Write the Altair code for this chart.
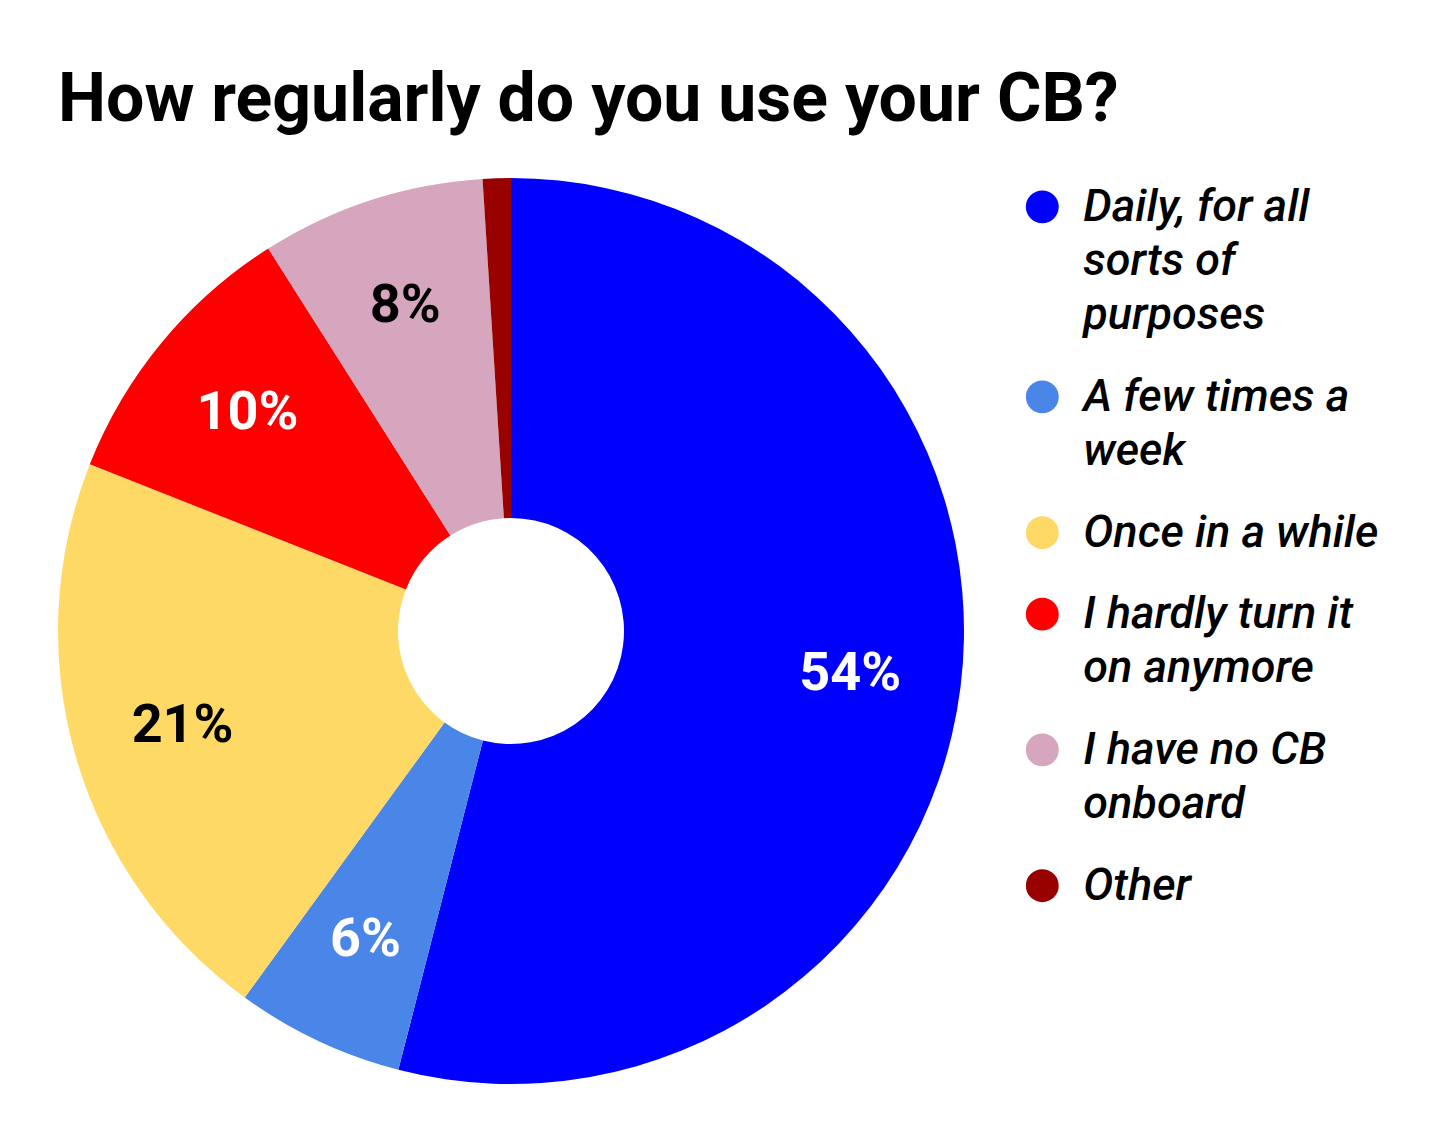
import altair as alt
import pandas as pd

TITLE = "How regularly do you use your CB?"
CATEGORIES = [
    "Daily, for all sorts of purposes",
    "A few times a week",
    "Once in a while",
    "I hardly turn it on anymore",
    "I have no CB onboard",
    "Other",
]
VALUES = [54, 6, 21, 10, 8, 1]
COLORS = ["#0000ff", "#4a86e8", "#ffd966", "#ff0000", "#d5a6bd", "#990000"]
DARK_LABEL_CATEGORIES = ["Once in a while", "I have no CB onboard"]
LEGEND_LINES = [
    ["Daily, for all", "sorts of", "purposes"],
    ["A few times a", "week"],
    ["Once in a while"],
    ["I hardly turn it", "on anymore"],
    ["I have no CB", "onboard"],
    ["Other"],
]

pie_df = pd.DataFrame({
    "category": CATEGORIES,
    "value": VALUES,
    "order": list(range(len(CATEGORIES))),
})

rows = []
slot = 0.0
for cat, lines in zip(CATEGORIES, LEGEND_LINES):
    for j, line in enumerate(lines):
        rows.append({"category": cat, "line": line, "slot": slot + j, "first": j == 0})
    slot += len(lines) + 0.5
leg_df = pd.DataFrame(rows)

color_scale = alt.Scale(domain=CATEGORIES, range=COLORS)

base = alt.Chart(pie_df).encode(
    theta=alt.Theta("value:Q", stack=True),
    order=alt.Order("order:Q", sort="ascending"),
)

arcs = base.mark_arc(outerRadius=453, innerRadius=113, stroke=None).encode(
    color=alt.Color("category:N", scale=color_scale, legend=None)
)

dark_test = " || ".join([f"datum.category == '{c}'" for c in DARK_LABEL_CATEGORIES])
labels = base.transform_calculate(
    label="datum.value + '%'"
).mark_text(
    radius=342, font="Roboto", fontSize=54, fontWeight="bold"
).encode(
    text=alt.condition("datum.value >= 2", alt.Text("label:N"), alt.value("")),
    color=alt.condition(dark_test, alt.value("#000000"), alt.value("#ffffff")),
)

pie = alt.layer(arcs, labels).properties(width=1006, height=920)

xs = alt.Scale(domain=[-0.69, 9.31])
ys = alt.Scale(domain=[-0.66, 16.28], reverse=True)

leg_base = alt.Chart(leg_df)
symbols = leg_base.transform_filter("datum.first").transform_calculate(col="0").mark_circle(
    size=1080, opacity=1
).encode(
    x=alt.X("col:Q", scale=xs, axis=None),
    y=alt.Y("slot:Q", scale=ys, axis=None),
    color=alt.Color("category:N", scale=color_scale, legend=None),
)
texts = leg_base.transform_calculate(col="1").mark_text(
    align="left", baseline="middle", font="Roboto", fontSize=45,
    fontStyle="italic", fontWeight=500, color="#000000"
).encode(
    x=alt.X("col:Q", scale=xs, axis=None),
    y=alt.Y("slot:Q", scale=ys, axis=None),
    text="line:N",
)
legend = alt.layer(symbols, texts).properties(width=410, height=920)

chart = alt.hconcat(pie, legend, spacing=0).properties(
    title=alt.TitleParams(
        TITLE, anchor="start", font="Roboto", fontSize=68, fontWeight="bold",
        color="#000000", dx=50, offset=36
    ),
    padding={"top": 59, "left": 0, "right": 0, "bottom": 0},
).configure_view(strokeWidth=0)

chart.save("out.html", embed_options={"renderer": "svg", "actions": False})
